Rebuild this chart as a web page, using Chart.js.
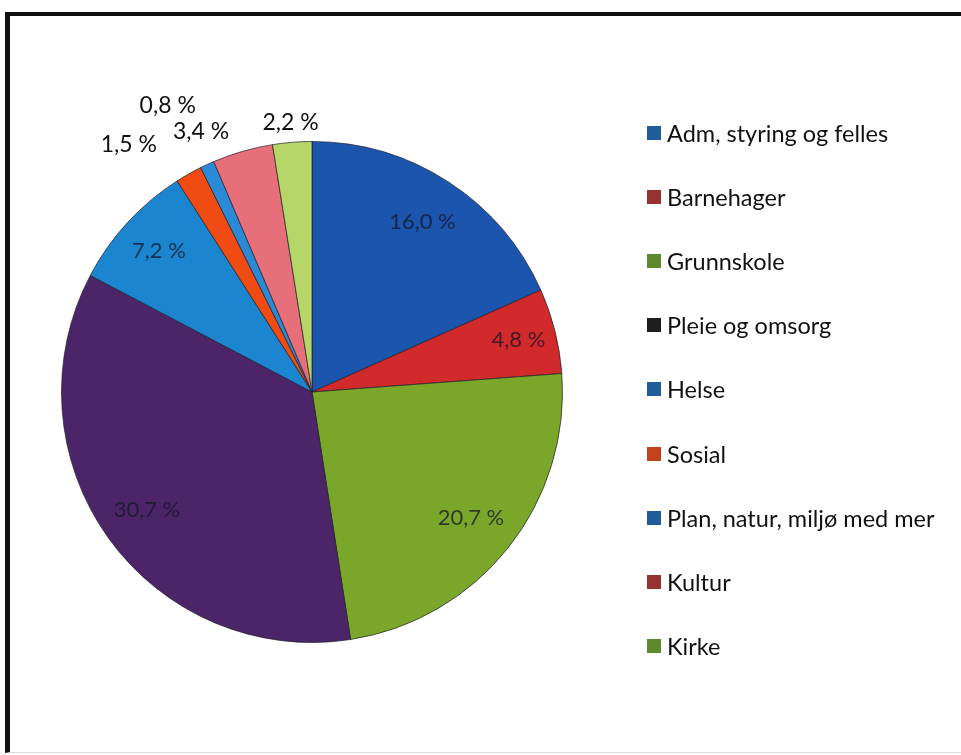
<!DOCTYPE html>
<html>
<head>
<meta charset="utf-8">
<script src="https://cdn.jsdelivr.net/npm/chart.js@4.4.0/dist/chart.umd.min.js"></script>
<style>
  body { margin: 0; background: #fff; }
  #wrap { position: relative; width: 961px; height: 755px; overflow: hidden; }
  #frame { position: absolute; left: 5px; top: 12px; right: -10px; bottom: 2px;
           border-top: 4px solid #111; border-left: 5px solid #111; border-bottom: 1px solid #ddd; }
  #chart { position: absolute; left: 0; top: 0; }
  #legend { position: absolute; left: 647px; top: 101px; margin: 0; padding: 0; list-style: none;
            font-family: Lato, "Open Sans", sans-serif; font-size: 23.5px; color: #111; }
  #legend li { height: 64.1px; display: flex; align-items: center; white-space: nowrap; }
  #legend span { display: inline-block; width: 14px; height: 14px; margin-right: 6px; }
</style>
</head>
<body>
<div id="wrap">
  <div id="frame"></div>
  <canvas id="chart" width="961" height="755"></canvas>
  <ul id="legend"></ul>
</div>
<script>
// Data
const categories = ["Adm, styring og felles", "Barnehager", "Grunnskole", "Pleie og omsorg", "Helse",
  "Sosial", "Plan, natur, miljø med mer", "Kultur", "Kirke"];
const shares = [16.0, 4.8, 20.7, 30.7, 7.2, 1.5, 0.8, 3.4, 2.2];
const valueLabels = ["16,0 %", "4,8 %", "20,7 %", "30,7 %", "7,2 %", "1,5 %", "0,8 %", "3,4 %", "2,2 %"];

// Colours
const sliceColors = ["#1c55ad", "#d2292b", "#7aa62a", "#4b2568", "#1b86cf", "#f04b12", "#2b8ad6", "#e66f7a", "#b6d66a"];
const legendColors = ["#1f5c99", "#963331", "#5e8a2f", "#1e1e1e", "#1f5c99", "#c2421d", "#1f5c99", "#963331", "#5e8a2f"];

// Label placement (radius factor, angle nudge in degrees)
const labelRadius = [0.81, 0.85, 0.81, 0.81, 0.83, 1.23, 1.28, 1.13, 1.08];
const labelNudge = [0, 0, 0, 0, 0, -7, -2, -7, 0];

// Legend
const legend = document.getElementById("legend");
categories.forEach((c, i) => {
  let li = document.createElement("li");
  li.innerHTML = `<span style="background:${legendColors[i]}"></span>${c}`;
  legend.appendChild(li);
});

// Value labels on slices
const sliceLabels = {
  id: "sliceLabels",
  afterDatasetsDraw(chart) {
    const ctx = chart.ctx;
    const meta = chart.getDatasetMeta(0);
    ctx.save();
    ctx.textAlign = "center";
    ctx.textBaseline = "middle";
    meta.data.forEach((arc, i) => {
      const p = arc.getProps(["x", "y", "startAngle", "endAngle", "outerRadius"], true);
      const a = (p.startAngle + p.endAngle) / 2 + labelNudge[i] * Math.PI / 180;
      const r = p.outerRadius * labelRadius[i];
      const outside = labelRadius[i] > 1;
      ctx.font = (outside ? "23px" : "22px") + " Lato, 'Open Sans', sans-serif";
      ctx.fillStyle = outside ? "#111" : "rgba(20,20,40,0.75)";
      ctx.fillText(valueLabels[i], p.x + Math.cos(a) * r, p.y + Math.sin(a) * r);
    });
    ctx.restore();
  }
};

new Chart(document.getElementById("chart"), {
  type: "pie",
  data: {
    labels: categories,
    datasets: [{
      data: shares,
      backgroundColor: sliceColors,
      borderColor: "rgba(30,30,40,0.7)",
      borderWidth: 1
    }]
  },
  options: {
    responsive: false,
    animation: false,
    layout: { padding: { left: 61, right: 398, top: 141, bottom: 112 } },
    plugins: { legend: { display: false }, tooltip: { enabled: false } }
  },
  plugins: [sliceLabels]
});
</script>
</body>
</html>
